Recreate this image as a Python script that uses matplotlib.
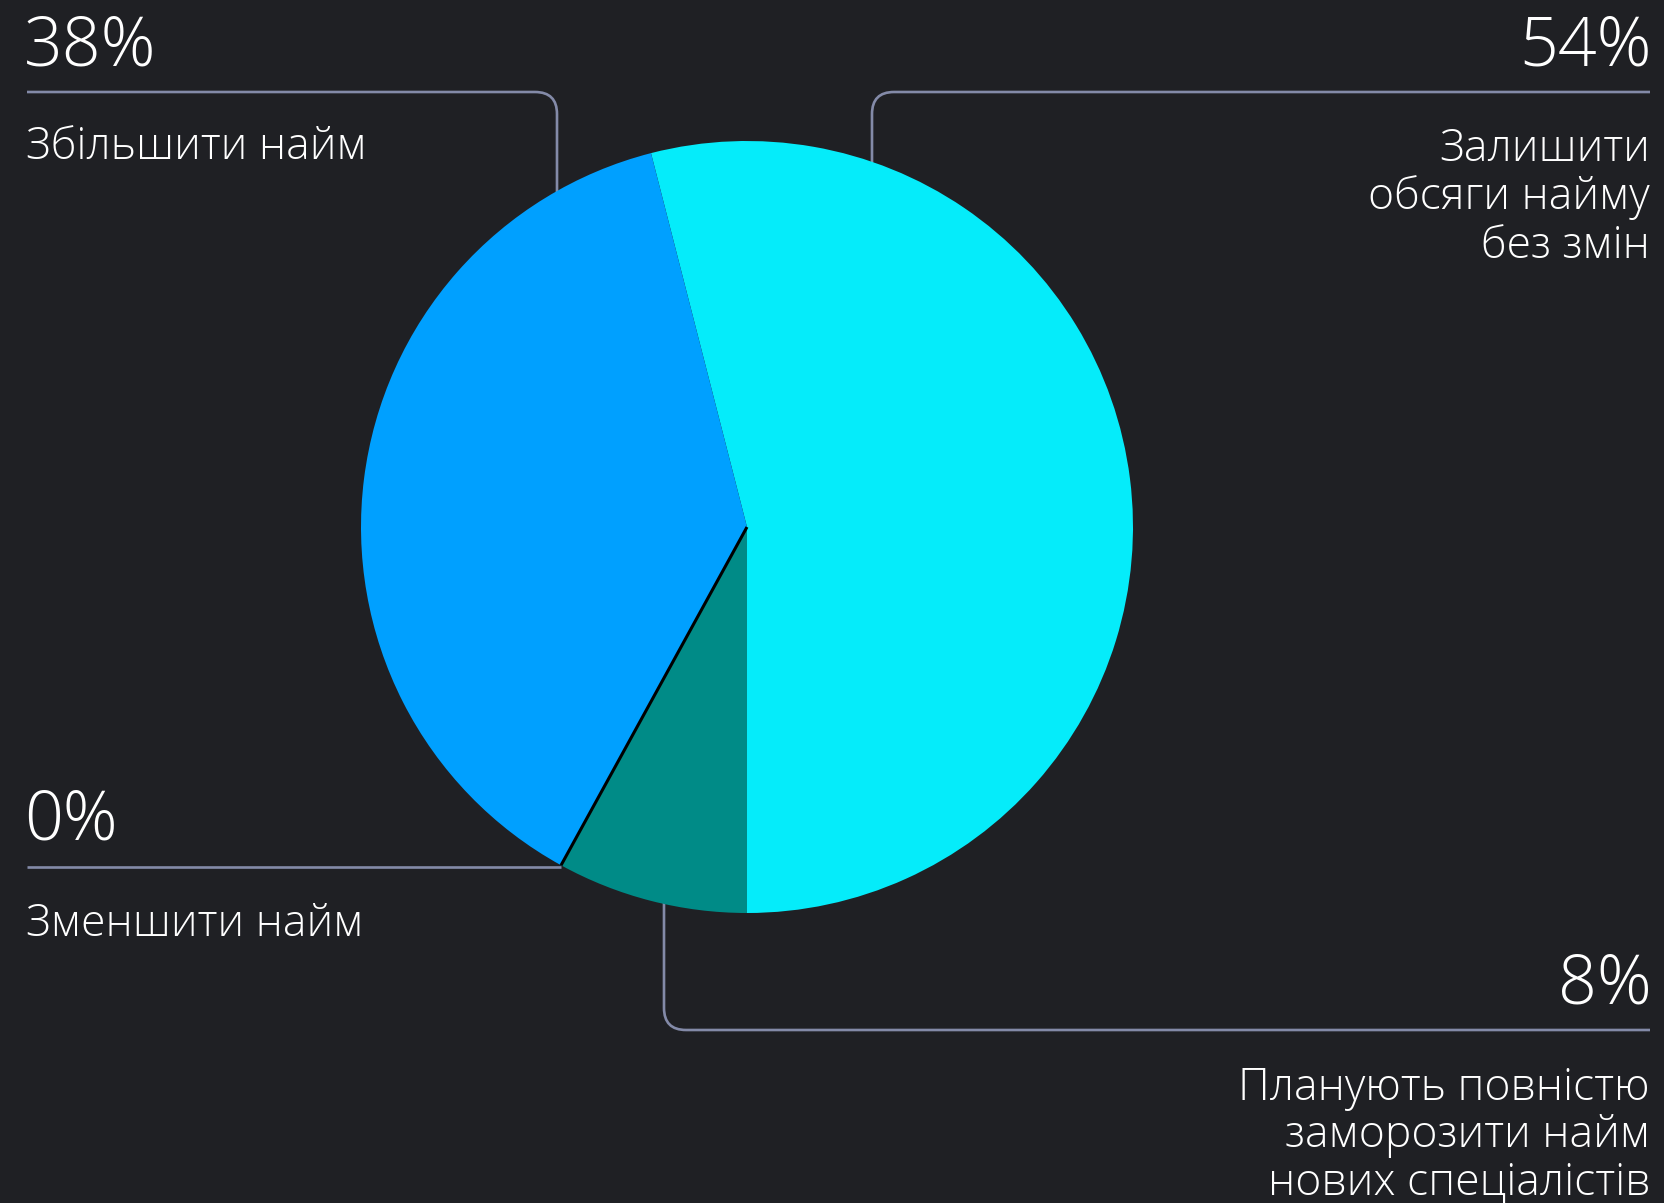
import numpy as np
import matplotlib
matplotlib.use("Agg")
import matplotlib.pyplot as plt
from matplotlib.path import Path
from matplotlib.patches import PathPatch

# ---- data ----
categories = ["Залишити обсяги найму без змін", "Збільшити найм",
              "Зменшити найм", "Планують повністю заморозити найм нових спеціалістів"]
values = [54, 38, 0, 8]
pct_labels = ["54%", "38%", "0%", "8%"]
colors = ["#05ecfa", "#00a0ff", "#000000", "#008b87"]

label_54 = ["Залишити", "обсяги найму", "без змін"]
label_38 = ["Збільшити найм"]
label_0 = ["Зменшити найм"]
label_8 = ["Планують повністю", "заморозити найм", "нових спеціалістів"]

BG = "#1f2024"
LINE = "#838aa8"
FONT = ["Open Sans", "DejaVu Sans"]

W, H = 1664, 1203
fig = plt.figure(figsize=(W / 100, H / 100), dpi=100, facecolor=BG)
ax = fig.add_axes([0, 0, 1, 1])
ax.set_facecolor(BG)

cx, cy, R = 747, 527, 386
wedges, _ = ax.pie(values, colors=colors, startangle=90, counterclock=False,
                   center=(cx, cy), radius=R,
                   wedgeprops=dict(linewidth=0, zorder=3, antialiased=True))
# zero-size wedge shows as a thin dark separator
for w, v in zip(wedges, values):
    if v == 0:
        w.set_edgecolor("#000000")
        w.set_linewidth(2.2)
        w.set_zorder(4)

ax.set_xlim(0, W)
ax.set_ylim(H, 0)
ax.set_aspect("equal")
ax.axis("off")


def rounded(points_codes):
    verts = [p for p, c in points_codes]
    codes = [c for p, c in points_codes]
    return PathPatch(Path(verts, codes), fill=False, edgecolor=LINE,
                     linewidth=1.9, zorder=2, capstyle="butt")


rc = 22
# 38% connector
ax.add_patch(rounded([((27, 92), Path.MOVETO), ((557 - rc, 92), Path.LINETO),
                      ((557, 92), Path.CURVE3), ((557, 92 + rc), Path.CURVE3),
                      ((557, 400), Path.LINETO)]))
# 54% connector
ax.add_patch(rounded([((1650, 92), Path.MOVETO), ((872 + rc, 92), Path.LINETO),
                      ((872, 92), Path.CURVE3), ((872, 92 + rc), Path.CURVE3),
                      ((872, 400), Path.LINETO)]))
# 8% connector
ax.add_patch(rounded([((664, 700), Path.MOVETO), ((664, 1030 - rc), Path.LINETO),
                      ((664, 1030), Path.CURVE3), ((664 + rc, 1030), Path.CURVE3),
                      ((1650, 1030), Path.LINETO)]))
# 0% connector -> points to the zero wedge on the rim
zw = wedges[values.index(0)]
ang = np.deg2rad(zw.theta1)
px, py = cx + R * np.cos(ang), cy + R * np.sin(ang)
ax.plot([27, px], [867, 867], color=LINE, lw=1.9, zorder=2, solid_capstyle="butt")

big = dict(color="white", fontsize=49, family=FONT, va="baseline", fontweight="light")
small = dict(color="white", fontsize=32, family=FONT, va="baseline", fontweight="light")

ax.text(24, 66, pct_labels[1], ha="left", **big)
ax.text(1652, 66, pct_labels[0], ha="right", **big)
ax.text(24, 840, pct_labels[2], ha="left", **big)
ax.text(1652, 1003, pct_labels[3], ha="right", **big)

ax.text(26, 159, label_38[0], ha="left", **small)
ax.text(26, 936, label_0[0], ha="left", **small)
for i, s in enumerate(label_54):
    ax.text(1650, 161 + 48.5 * i, s, ha="right", **small)
for i, s in enumerate(label_8):
    ax.text(1650, 1100 + 47.5 * i, s, ha="right", **small)

fig.savefig("out.png", dpi=100, facecolor=BG)
